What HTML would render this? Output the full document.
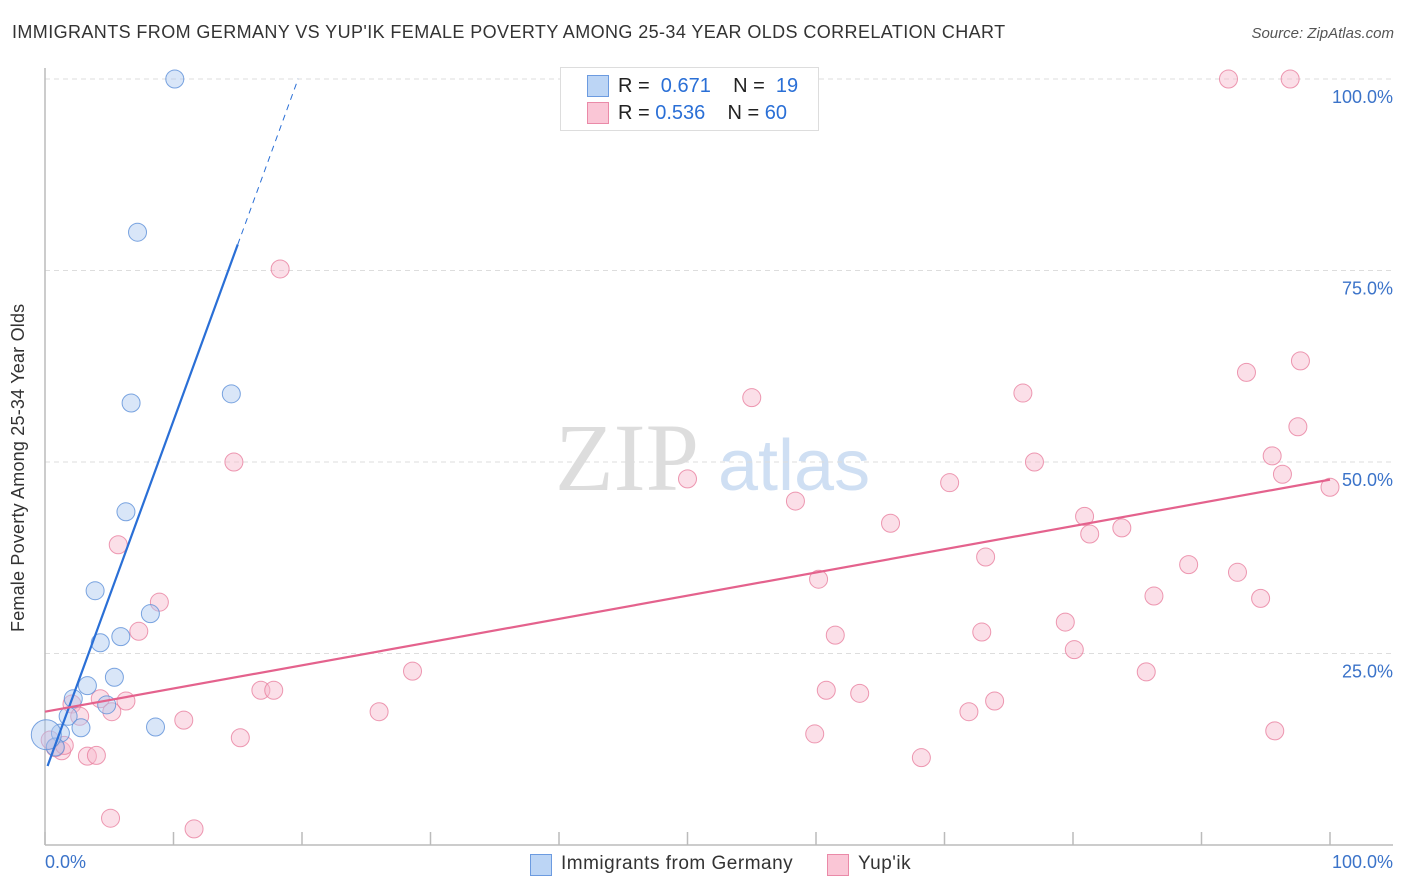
<!DOCTYPE html>
<html><head><meta charset="utf-8"><style>
body{margin:0;background:#fff;font-family:"Liberation Sans",sans-serif}
#wrap{position:relative;width:1406px;height:892px;overflow:hidden}
.t{position:absolute;white-space:nowrap}
</style></head><body><div id="wrap">
<div class="t" style="left:12px;top:22px;font-size:18px;letter-spacing:0.4px;color:#333">IMMIGRANTS FROM GERMANY VS YUP'IK FEMALE POVERTY AMONG 25-34 YEAR OLDS CORRELATION CHART</div>
<div class="t" style="right:12px;top:25px;font-size:15px;color:#555;font-style:italic">Source: ZipAtlas.com</div>
<svg id="svg" width="1406" height="892" style="position:absolute;left:0;top:0"></svg>
</div>
<script>
const blueX=[10.1,7.2,6.7,14.5,6.3,3.9,8.2,4.3,5.9,5.4,3.3,2.2,4.8,1.8,2.8,8.6,1.2,0.8,0.1];
const blueY=[100,80.0,57.7,58.9,43.5,33.2,30.2,26.4,27.2,21.9,20.8,19.1,18.3,16.8,15.3,15.4,14.6,12.8,14.4];
const pinkX=[92.1,96.9,18.3,97.7,93.5,55.0,76.1,14.7,97.5,95.5,50.0,77.0,96.3,100,70.4,58.4,65.8,80.9,81.3,83.8,5.7,73.2,89.0,60.2,92.8,8.9,86.3,94.6,7.3,61.5,72.9,79.4,80.1,28.6,85.7,16.8,17.8,60.8,63.4,6.3,4.3,2.1,2.7,5.2,26.0,73.9,71.9,10.8,15.2,59.9,95.7,1.3,3.3,4.0,68.2,5.1,11.6,0.8,0.4,1.5];
const pinkY=[100,100,75.2,63.2,61.7,58.4,59.0,50.0,54.6,50.8,47.8,50.0,48.4,46.7,47.3,44.9,42.0,42.9,40.6,41.4,39.2,37.6,36.6,34.7,35.6,31.7,32.5,32.2,27.9,27.4,27.8,29.1,25.5,22.7,22.6,20.2,20.2,20.2,19.8,18.8,19.1,18.4,16.8,17.4,17.4,18.8,17.4,16.3,14.0,14.5,14.9,12.3,11.6,11.7,11.4,3.5,2.1,12.7,13.7,13.0];
const yTicks=[25,50,75,100];
const yTickLabels=["25.0%","50.0%","75.0%","100.0%"];
const blueTrend=[9.4,4.6];
const pinkTrend=[17.4,0.303];
const X0=45,X1=1330,Y0=845,Y1=79;
const sx=v=>X0+(X1-X0)*v/100, sy=v=>Y0-(Y0-Y1)*v/100;
const svg=document.getElementById('svg');const NS='http://www.w3.org/2000/svg';
function mk(tag,a){const e=document.createElementNS(NS,tag);for(const k in a)e.setAttribute(k,a[k]);svg.appendChild(e);return e;}
let w=mk('text',{x:555,y:490,'font-size':96,fill:'#ddd','font-family':'Liberation Serif, serif'});w.textContent='ZIP';


let w2=mk('text',{x:718,y:490,'font-size':72,fill:'#cfdff3','font-family':'Liberation Sans, sans-serif'});w2.textContent='atlas';


yTicks.forEach((t,i)=>{
 const g=mk('line',{x1:X0,x2:1393,y1:sy(t),y2:sy(t),stroke:'#ddd','stroke-dasharray':'5,4'});
 
 
 const l=mk('text',{x:1393,y:sy(t)+24,'text-anchor':'end','font-size':18,fill:'#3b73c9'});l.textContent=yTickLabels[i];
 
 
});
let ax=mk('line',{x1:X0,x2:X0,y1:68,y2:Y0,stroke:'#bbb','stroke-width':1.5});


let bx=mk('line',{x1:X0,x2:1393,y1:Y0,y2:Y0,stroke:'#bbb','stroke-width':1.5});


for(let i=0;i<=10;i++){const tk=mk('line',{x1:sx(i*10),x2:sx(i*10),y1:832,y2:Y0,stroke:'#bbb','stroke-width':1.5});
 
 }
function dot(x,y,fill,stroke,r){const c=mk('circle',{cx:sx(x),cy:sy(y),r:r,fill:fill,stroke:stroke,'stroke-width':1,'fill-opacity':0.45,'stroke-opacity':0.8});return c;}
pinkX.forEach((x,i)=>{const c=dot(x,pinkY[i],'#f7b8cb','#e8809f',9);
 
 });
blueX.forEach((x,i)=>{const c=dot(x,blueY[i],'#aac8ef','#5b8fd8',i==18?15:9);
 
 });
const by=x=>blueTrend[0]+blueTrend[1]*x;
let bl=mk('line',{x1:sx(0.2),y1:sy(by(0.2)),x2:sx(15),y2:sy(by(15)),stroke:'#2a6fd6','stroke-width':2.2});


let bd=mk('line',{x1:sx(15),y1:sy(by(15)),x2:sx(19.7),y2:sy(by(19.7)),stroke:'#2a6fd6','stroke-width':1,'stroke-dasharray':'6,5'});


const py=x=>pinkTrend[0]+pinkTrend[1]*x;
let pl=mk('line',{x1:sx(0),y1:sy(py(0)),x2:sx(100),y2:sy(py(100)),stroke:'#e4628d','stroke-width':2.2});


</script>
<div class="t" style="left:8px;top:632px;transform:rotate(-90deg);transform-origin:0 0;font-size:18px;letter-spacing:0.2px;color:#333">Female Poverty Among 25-34 Year Olds</div>
<div class="t" style="left:45px;top:852px;font-size:18px;color:#3b73c9">0.0%</div>
<div class="t" style="right:13px;top:852px;font-size:18px;color:#3b73c9">100.0%</div>
<div style="position:absolute;left:560px;top:67px;width:257px;height:62px;border:1px solid #ddd;background:#fff;font-size:20px">
 <div style="position:absolute;left:26px;top:7px;width:20px;height:20px;background:#bcd5f5;border:1px solid #6c9be0"></div>
 <div class="t" style="left:57px;top:7px;color:#222">R = <span style="color:#2a6fd6">&nbsp;0.671</span>&nbsp;&nbsp;&nbsp; N = <span style="color:#2a6fd6">&nbsp;19</span></div>
 <div style="position:absolute;left:26px;top:34px;width:20px;height:20px;background:#fac6d6;border:1px solid #ea8aa8"></div>
 <div class="t" style="left:57px;top:34px;color:#222">R = <span style="color:#2a6fd6">0.536</span>&nbsp;&nbsp;&nbsp; N = <span style="color:#2a6fd6">60</span></div>
</div>
<div style="position:absolute;left:530px;top:854px;width:20px;height:20px;background:#bcd5f5;border:1px solid #6c9be0"></div>
<div class="t" style="left:561px;top:853px;font-size:19px;letter-spacing:0.5px;color:#333">Immigrants from Germany</div>
<div style="position:absolute;left:827px;top:854px;width:20px;height:20px;background:#fac6d6;border:1px solid #ea8aa8"></div>
<div class="t" style="left:858px;top:853px;font-size:19px;letter-spacing:0.5px;color:#333">Yup'ik</div>
</body></html>
